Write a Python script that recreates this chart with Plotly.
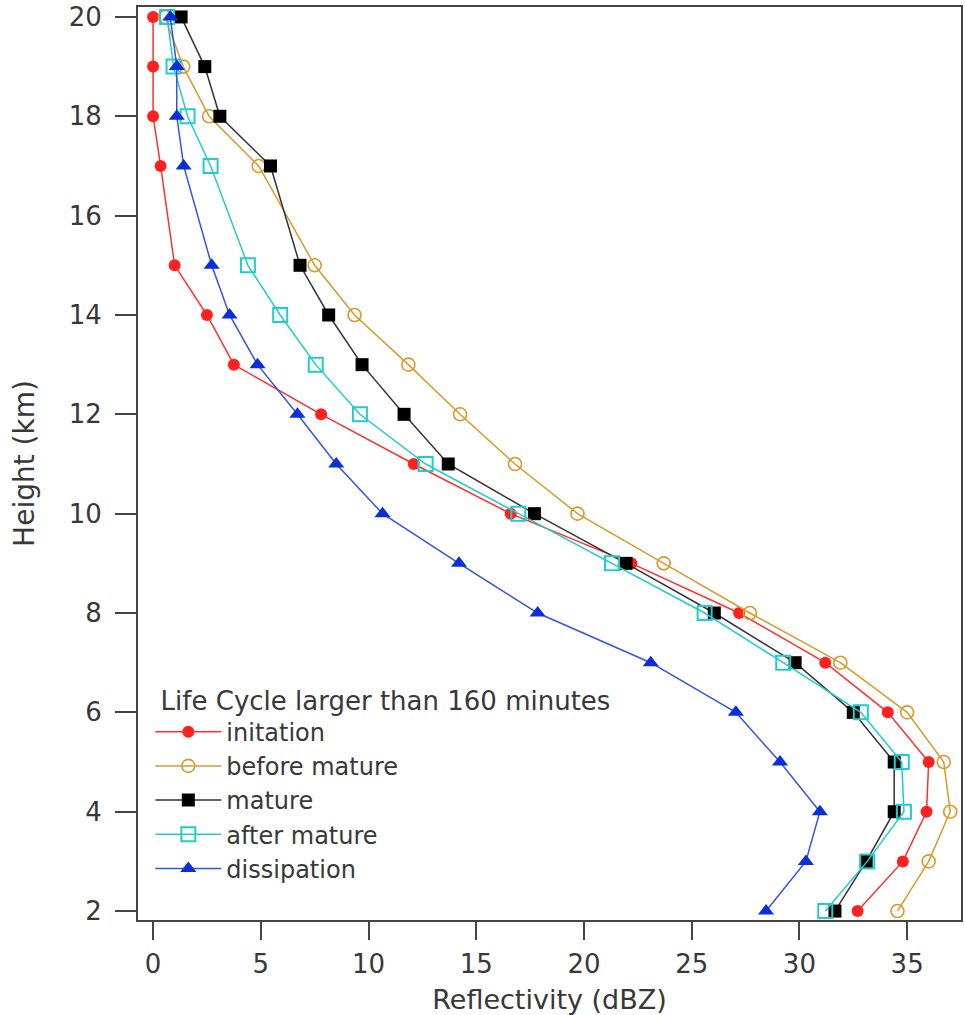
import plotly.graph_objects as go

heights = [20, 19, 18, 17, 15, 14, 13, 12, 11, 10, 9, 8, 7, 6, 5, 4, 3, 2]

initation = [0.0, 0.0, 0.0, 0.35, 1.0, 2.5, 3.75, 7.8, 12.1, 16.6, 22.2, 27.2, 31.2, 34.1, 36.0, 35.9, 34.8, 32.7]
before_mature = [0.55, 1.4, 2.6, 4.9, 7.5, 9.35, 11.85, 14.25, 16.8, 19.7, 23.7, 27.7, 31.9, 35.0, 36.7, 37.0, 36.0, 34.55]
mature = [1.3, 2.4, 3.1, 5.45, 6.82, 8.15, 9.7, 11.65, 13.7, 17.7, 21.95, 26.05, 29.8, 32.5, 34.4, 34.4, 33.1, 31.65]
after_mature = [0.65, 0.95, 1.6, 2.67, 4.4, 5.9, 7.55, 9.6, 12.65, 16.95, 21.3, 25.6, 29.25, 32.85, 34.75, 34.85, 33.15, 31.2]
dissipation = [0.8, 1.1, 1.1, 1.42, 2.72, 3.55, 4.85, 6.7, 8.5, 10.65, 14.2, 17.85, 23.1, 27.05, 29.1, 30.95, 30.3, 28.45]

x_ticks = [0, 5, 10, 15, 20, 25, 30, 35]
y_ticks = [2, 4, 6, 8, 10, 12, 14, 16, 18, 20]

FONT = "DejaVu Sans"
TXT = "#383838"

series = [
    ("initation", initation, "#FF2020", "#FF3030", "circle", 12, 0),
    ("before mature", before_mature, "#D99A2B", "#D99A2B", "circle-open", 13, 1.6),
    ("mature", mature, "#000000", "#333333", "square", 13, 0),
    ("after mature", after_mature, "#22CCCC", "#22CCCC", "square-open", 14, 2),
    ("dissipation", dissipation, "#0A2ED8", "#3355E0", "triangle-up", 14, 0),
]

fig = go.Figure()
for name, vals, mcol, lcol, sym, size, lw in series:
    fig.add_trace(go.Scatter(
        x=vals, y=heights, mode="lines+markers", name=name,
        line=dict(color=lcol, width=1.5),
        marker=dict(symbol=sym, size=size, color=mcol,
                    line=dict(color=mcol, width=lw)),
    ))

fig.update_layout(
    width=965, height=1015,
    margin=dict(l=138, r=2, t=6, b=95),
    paper_bgcolor="white", plot_bgcolor="white",
    font=dict(family=FONT, size=26, color=TXT),
    showlegend=True,
    legend=dict(
        title=dict(text="&nbsp;Life Cycle larger than 160 minutes",
                   font=dict(family=FONT, size=26, color=TXT)),
        x=0.015, y=0.032, xanchor="left", yanchor="bottom",
        bgcolor="rgba(0,0,0,0)", borderwidth=0,
        font=dict(family=FONT, size=24, color=TXT),
        itemwidth=66,
        tracegroupgap=0,
    ),
)

fig.update_xaxes(
    range=[-0.7, 37.5], tickvals=x_ticks, ticktext=[str(v) for v in x_ticks],
    showgrid=False, zeroline=False,
    showline=True, linecolor="#444444", linewidth=2, mirror=True,
    ticks="outside", ticklen=18, tickwidth=2, tickcolor="#444444",
    ticklabelstandoff=2,
    title=dict(text="Reflectivity (dBZ)", standoff=12, font=dict(size=27)),
)
fig.update_yaxes(
    range=[1.82, 20.2], tickvals=y_ticks, ticktext=[str(v) for v in y_ticks],
    showgrid=False, zeroline=False,
    showline=True, linecolor="#444444", linewidth=2, mirror=True,
    ticks="outside", ticklen=21, tickwidth=2, tickcolor="#444444",
    ticklabelstandoff=8,
    title=dict(text="Height (km)", standoff=26, font=dict(size=28)),
)

fig.write_html("out.html")
